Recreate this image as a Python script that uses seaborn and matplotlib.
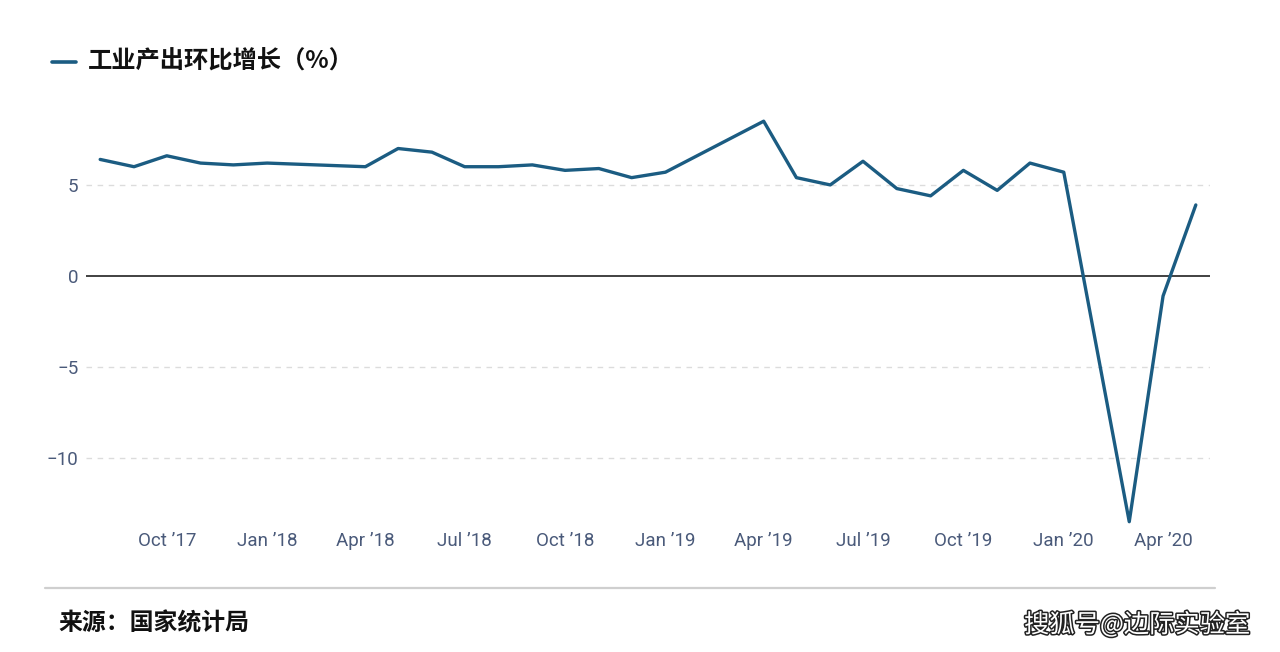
import matplotlib
matplotlib.use("Agg")
import matplotlib.pyplot as plt
import matplotlib.dates as mdates
import matplotlib.patheffects as pe
from matplotlib.lines import Line2D
import seaborn as sns
import pandas as pd

# ---- data ----
months = ["2017-08", "2017-09", "2017-10", "2017-11", "2017-12", "2018-01",
          "2018-04", "2018-05", "2018-06", "2018-07", "2018-08", "2018-09",
          "2018-10", "2018-11", "2018-12", "2019-01",
          "2019-04", "2019-05", "2019-06", "2019-07", "2019-08", "2019-09",
          "2019-10", "2019-11", "2019-12", "2020-01",
          "2020-03", "2020-04", "2020-05"]
growth = [6.4, 6.0, 6.6, 6.2, 6.1, 6.2,
          6.0, 7.0, 6.8, 6.0, 6.0, 6.1,
          5.8, 5.9, 5.4, 5.7,
          8.5, 5.4, 5.0, 6.3, 4.8, 4.4,
          5.8, 4.7, 6.2, 5.7,
          -13.5, -1.1, 3.9]
tick_months = ["2017-10", "2018-01", "2018-04", "2018-07", "2018-10", "2019-01",
               "2019-04", "2019-07", "2019-10", "2020-01", "2020-04"]
tick_labels = ["Oct \u201917", "Jan \u201918", "Apr \u201918", "Jul \u201918", "Oct \u201918",
               "Jan \u201919", "Apr \u201919", "Jul \u201919", "Oct \u201919", "Jan \u201920",
               "Apr \u201920"]
y_ticks = [-10, -5, 0, 5]
title = "工业产出环比增长（%）"
source = "来源：国家统计局"
watermark = "搜狐号@边际实验室"

df = pd.DataFrame({"date": pd.to_datetime(months), "value": growth})

sns.set_theme(style="white")
plt.rcParams["font.family"] = ["Roboto", "Noto Sans CJK SC", "DejaVu Sans"]

line_color = "#1b5c82"
tick_color = "#4a5a7a"

fig = plt.figure(figsize=(12.8, 6.52), dpi=100)
ax = fig.add_axes([86 / 1280, 1 - 529 / 652, (1210 - 86) / 1280, (529 - 103) / 652])

sns.lineplot(data=df, x="date", y="value", ax=ax, color=line_color, linewidth=2.4)

ax.set_xlim(pd.Timestamp("2017-07-19"), pd.Timestamp("2020-05-14"))
ax.set_ylim(-13.9, 9.5)

for s in ax.spines.values():
    s.set_visible(False)

for yv in y_ticks:
    if yv == 0:
        ax.axhline(0, color="#333333", linewidth=1.3, zorder=1)
    else:
        ax.axhline(yv, color="#dcdcdc", linewidth=1.0, linestyle=(0, (4, 4)), zorder=0)

ax.set_yticks(y_ticks)
ax.set_yticklabels([str(v).replace("-", "\u2212") for v in y_ticks])
ax.set_xticks(mdates.date2num(pd.to_datetime(tick_months)))
ax.set_xticklabels(tick_labels)
ax.tick_params(axis="both", length=0, labelsize=13.5, colors=tick_color)
ax.tick_params(axis="x", pad=2.5)
ax.tick_params(axis="y", pad=5.5)
ax.set_xlabel("")
ax.set_ylabel("")
ax.grid(False)

# legend-like title
fig.add_artist(Line2D([52 / 1280, 76 / 1280], [1 - 62 / 652, 1 - 62 / 652],
                      color=line_color, linewidth=2.6, transform=fig.transFigure))
fig.text(88 / 1280, 1 - 62 / 652, title, fontsize=17.5, fontweight="bold",
         color="#111111", va="center", ha="left",
         family=["Noto Sans CJK SC", "DejaVu Sans"])

# separator
fig.add_artist(Line2D([45 / 1280, 1215 / 1280], [1 - 588 / 652, 1 - 588 / 652],
                      color="#cfcfcf", linewidth=1.6, transform=fig.transFigure))

fig.text(58 / 1280, 1 - 623 / 652, source, fontsize=17.2, fontweight="bold",
         color="#111111", va="center", ha="left",
         family=["Noto Sans CJK SC", "DejaVu Sans"])

fig.text(1250 / 1280, 1 - 625 / 652, watermark, fontsize=18.2, fontweight="medium",
         color="white", va="center", ha="right",
         family=["Noto Sans CJK SC", "DejaVu Sans"],
         path_effects=[pe.withStroke(linewidth=2.2, foreground="#222222")])

fig.savefig("out.png", dpi=100, facecolor="white")
